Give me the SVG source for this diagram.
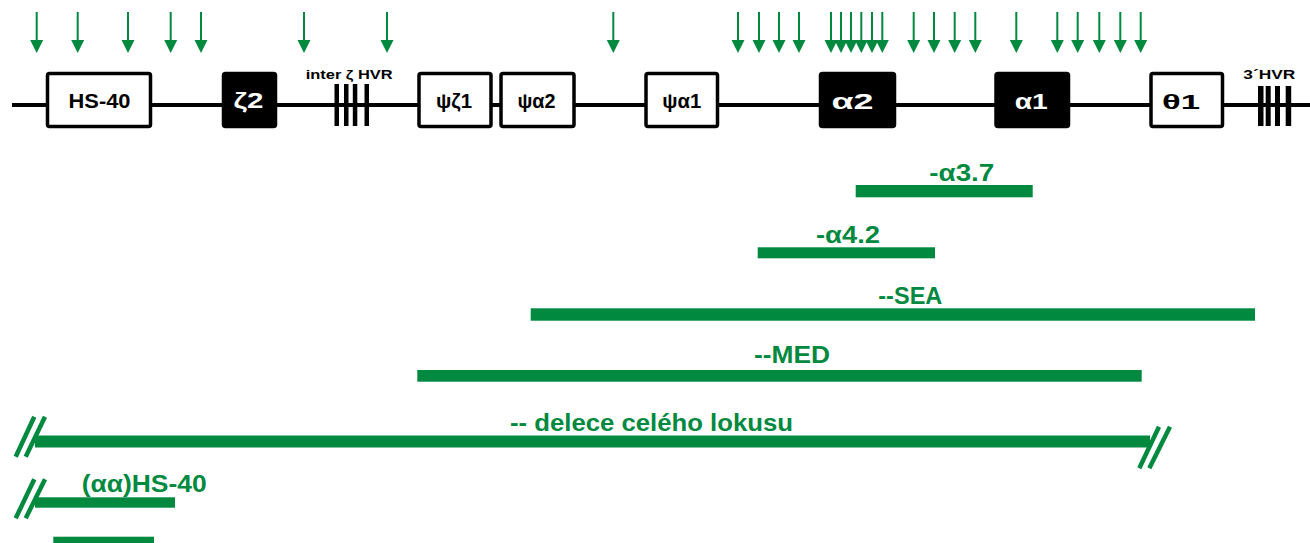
<svg xmlns="http://www.w3.org/2000/svg" xmlns:xlink="http://www.w3.org/1999/xlink" width="1310" height="543" viewBox="0 0 1310 543">
<style>
.box{fill:#fff;stroke:#000;stroke-width:3.5}
.gene{fill:#000;stroke:#000;stroke-width:3.5}
.lbl{font-family:"Liberation Sans",Arial,sans-serif;font-size:21px;font-weight:bold;text-anchor:middle;fill:#000}
.wlbl{font-family:"Liberation Sans",Arial,sans-serif;font-size:22px;font-weight:bold;text-anchor:middle;fill:#fff}
.small{font-family:"Liberation Sans",Arial,sans-serif;font-size:13.5px;font-weight:bold;fill:#000}
.glbl{font-family:"Liberation Sans",Arial,sans-serif;font-size:23.5px;font-weight:bold;fill:#00893F}
.bar{fill:#00893F}
.slash{stroke:#00893F;stroke-width:4.5;fill:none}
.hvr{fill:#000}
.arr line{stroke:#00893F;stroke-width:2}
.arr polygon{fill:#00893F}
</style>
<defs>
<g id="arrow" class="arr"><line x1="0" y1="12" x2="0" y2="41"/><polygon points="-6.5,40 6.5,40 0,53"/></g>
</defs>
<g id="connectors">
<line x1="12" y1="105" x2="1310" y2="105" stroke="#000" stroke-width="4"/>
</g>
<g id="arrows">
<use xlink:href="#arrow" x="36.7"/><use xlink:href="#arrow" x="77.7"/><use xlink:href="#arrow" x="128"/><use xlink:href="#arrow" x="170.7"/><use xlink:href="#arrow" x="201"/><use xlink:href="#arrow" x="304"/><use xlink:href="#arrow" x="387"/><use xlink:href="#arrow" x="613.3"/><use xlink:href="#arrow" x="738"/><use xlink:href="#arrow" x="759"/><use xlink:href="#arrow" x="779"/><use xlink:href="#arrow" x="799"/><use xlink:href="#arrow" x="831"/><use xlink:href="#arrow" x="841"/><use xlink:href="#arrow" x="851"/><use xlink:href="#arrow" x="861.3"/><use xlink:href="#arrow" x="872"/><use xlink:href="#arrow" x="882.3"/><use xlink:href="#arrow" x="913.7"/><use xlink:href="#arrow" x="934"/><use xlink:href="#arrow" x="954.7"/><use xlink:href="#arrow" x="975.3"/><use xlink:href="#arrow" x="1016.3"/><use xlink:href="#arrow" x="1057.3"/><use xlink:href="#arrow" x="1077.7"/><use xlink:href="#arrow" x="1099.3"/><use xlink:href="#arrow" x="1120.3"/><use xlink:href="#arrow" x="1140.7"/>
</g>
<g id="HS-40"><rect class="box" x="47.5" y="73.5" width="103" height="53" rx="2"/><text class="lbl" x="99.5" y="108" textLength="62" lengthAdjust="spacingAndGlyphs">HS-40</text></g>
<g id="zeta2"><rect class="gene" x="223.5" y="73.5" width="52" height="53" rx="2"/><text class="wlbl" x="248.5" y="108" textLength="30" lengthAdjust="spacingAndGlyphs">ζ2</text></g>
<g id="interHVR"><text class="small" x="305.7" y="79" textLength="87" lengthAdjust="spacingAndGlyphs">inter ζ HVR</text>
<rect class="hvr" x="334.5" y="84" width="4.5" height="42"/><rect class="hvr" x="344" y="84" width="4.5" height="42"/><rect class="hvr" x="352.8" y="84" width="4.5" height="42"/><rect class="hvr" x="364.5" y="84" width="4.5" height="42"/></g>
<g id="psizeta1"><rect class="box" x="419" y="73.5" width="72" height="53" rx="2"/><text class="lbl" x="454" y="108" textLength="36" lengthAdjust="spacingAndGlyphs">ψζ1</text></g>
<g id="psialpha2"><rect class="box" x="501" y="73.5" width="73" height="53" rx="2"/><text class="lbl" x="536.5" y="108" textLength="38" lengthAdjust="spacingAndGlyphs">ψα2</text></g>
<g id="psialpha1"><rect class="box" x="646" y="73.5" width="71.5" height="53" rx="2"/><text class="lbl" x="681.7" y="108" textLength="39" lengthAdjust="spacingAndGlyphs">ψα1</text></g>
<g id="alpha2"><rect class="gene" x="820.5" y="73.5" width="74" height="53" rx="2"/><text class="wlbl" x="852.5" y="109" textLength="42" lengthAdjust="spacingAndGlyphs">α2</text></g>
<g id="alpha1"><rect class="gene" x="996" y="73.5" width="72.5" height="53" rx="2"/><text class="wlbl" x="1031.3" y="109" textLength="33" lengthAdjust="spacingAndGlyphs">α1</text></g>
<g id="theta1"><rect class="box" x="1151" y="73.5" width="71.5" height="53" rx="2"/><text class="lbl" x="1181" y="109" textLength="38" lengthAdjust="spacingAndGlyphs">θ1</text></g>
<g id="HVR3"><text class="small" x="1243.3" y="79" textLength="52" lengthAdjust="spacingAndGlyphs">3´HVR</text>
<rect class="hvr" x="1258" y="86" width="5.5" height="40"/><rect class="hvr" x="1265.7" y="86" width="5" height="40"/><rect class="hvr" x="1275" y="86" width="5" height="40"/><rect class="hvr" x="1285.7" y="86" width="5.5" height="40"/></g>
<g id="del-a3.7"><rect class="bar" x="855.7" y="185" width="177" height="12.3"/><text class="glbl" x="929.3" y="181" textLength="65" lengthAdjust="spacingAndGlyphs">-α3.7</text></g>
<g id="del-a4.2"><rect class="bar" x="757.7" y="247.3" width="177.3" height="11"/><text class="glbl" x="816" y="242.7" textLength="64" lengthAdjust="spacingAndGlyphs">-α4.2</text></g>
<g id="del-SEA"><rect class="bar" x="530.7" y="308.3" width="724.3" height="12.4"/><text class="glbl" x="878.3" y="304" textLength="64" lengthAdjust="spacingAndGlyphs">--SEA</text></g>
<g id="del-MED"><rect class="bar" x="417.3" y="370" width="724.4" height="11.7"/><text class="glbl" x="754" y="363.3" textLength="76" lengthAdjust="spacingAndGlyphs">--MED</text></g>
<g id="del-locus"><rect class="bar" x="35" y="435.5" width="1115" height="12"/>
<line class="slash" x1="15.7" y1="456.7" x2="34.3" y2="416.7"/><line class="slash" x1="25.7" y1="456.7" x2="45" y2="416.7"/>
<line class="slash" x1="1139.3" y1="468.3" x2="1159" y2="426.7"/><line class="slash" x1="1149.3" y1="468.3" x2="1170" y2="426.7"/>
<text class="glbl" x="510" y="430.7" textLength="283" lengthAdjust="spacingAndGlyphs">-- delece celého lokusu</text></g>
<g id="del-HS40"><rect class="bar" x="35" y="497.3" width="140" height="10.4"/>
<line class="slash" x1="15.7" y1="518.3" x2="34.3" y2="479.3"/><line class="slash" x1="25.7" y1="518.3" x2="45" y2="479.3"/>
<text class="glbl" x="81.7" y="491.7" textLength="125" lengthAdjust="spacingAndGlyphs">(αα)HS-40</text></g>
<g id="bar-bottom"><rect class="bar" x="53.3" y="536.7" width="100.7" height="8"/></g>
</svg>
